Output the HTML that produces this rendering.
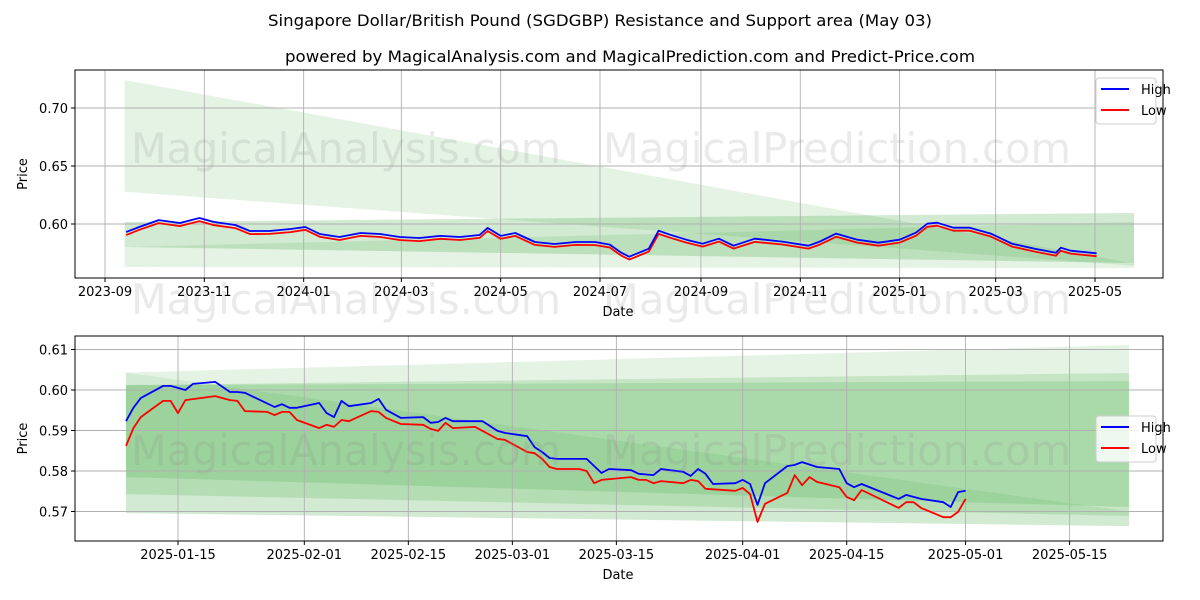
<!DOCTYPE html>
<html><head><meta charset="utf-8"><style>
body{margin:0;background:#fff;}
svg{display:block;font-family:"DejaVu Sans","Liberation Sans",sans-serif;}
</style></head><body>
<svg id="chart" width="1200" height="600" viewBox="0 0 1200 600" xmlns="http://www.w3.org/2000/svg">
<text x="600" y="26" text-anchor="middle" font-size="16" fill="#000" textLength="664" lengthAdjust="spacingAndGlyphs">Singapore Dollar/British Pound (SGDGBP) Resistance and Support area (May 03)</text>
<text x="630" y="62" text-anchor="middle" font-size="16" fill="#000" textLength="690" lengthAdjust="spacingAndGlyphs">powered by MagicalAnalysis.com and MagicalPrediction.com and Predict-Price.com</text>
<g id="top"></g>
<g id="bot"></g>
</svg>
<script>
// ---- top panel data ----
const topHighDates=["2023-09-14","2023-09-22","2023-10-04","2023-10-17","2023-10-29","2023-11-07","2023-11-20","2023-11-29","2023-12-11","2023-12-24","2024-01-02","2024-01-11","2024-01-23","2024-02-05","2024-02-17","2024-02-29","2024-03-12","2024-03-25","2024-04-06","2024-04-18","2024-04-23","2024-05-01","2024-05-10","2024-05-22","2024-06-03","2024-06-16","2024-06-28","2024-07-07","2024-07-14","2024-07-19","2024-07-31","2024-08-06","2024-08-13","2024-08-23","2024-09-02","2024-09-12","2024-09-21","2024-10-04","2024-10-21","2024-11-06","2024-11-13","2024-11-23","2024-12-06","2024-12-19","2025-01-01","2025-01-11","2025-01-18","2025-01-24","2025-02-03","2025-02-13","2025-02-26","2025-03-11","2025-03-25","2025-04-07","2025-04-10","2025-04-16","2025-05-02"];
const topHighVals=[0.5931,0.5974,0.6034,0.6009,0.6052,0.6017,0.5991,0.5940,0.5940,0.5957,0.5974,0.5914,0.5888,0.5922,0.5914,0.5888,0.5879,0.5897,0.5888,0.5905,0.5966,0.5897,0.5922,0.5845,0.5828,0.5845,0.5845,0.5822,0.5753,0.5718,0.5787,0.5942,0.5908,0.5865,0.5830,0.5873,0.5813,0.5873,0.5848,0.5813,0.5848,0.5917,0.5865,0.5839,0.5865,0.5925,0.6003,0.6011,0.5968,0.5968,0.5917,0.5830,0.5787,0.5753,0.5796,0.5770,0.5747];
const topLowVals=[0.5905,0.5950,0.6008,0.5982,0.6025,0.5990,0.5965,0.5913,0.5915,0.5930,0.5950,0.5890,0.5862,0.5897,0.5888,0.5862,0.5853,0.5872,0.5862,0.5880,0.5940,0.5872,0.5897,0.5820,0.5803,0.5820,0.5818,0.5797,0.5728,0.5693,0.5762,0.5915,0.5882,0.5840,0.5805,0.5848,0.5788,0.5846,0.5823,0.5788,0.5822,0.5890,0.5840,0.5813,0.5840,0.5898,0.5976,0.5985,0.5942,0.5942,0.5892,0.5805,0.5762,0.5727,0.5770,0.5745,0.5722];
const topTicks=["2023-09","2023-11","2024-01","2024-03","2024-05","2024-07","2024-09","2024-11","2025-01","2025-03","2025-05"];
const topYTicks=[0.60,0.65,0.70];
const topBandStart="2023-09-13", topBandEnd="2025-05-25";
const topBandTopsL=[0.7241,0.6017,0.5802], topBandTopsR=[0.5660,0.6095,0.6017];
const topBandBotsL=[0.6279,0.5802,0.5629], topBandBotsR=[0.5640,0.5664,0.5620];
// ---- bottom panel data ----
const botHighDates=["2025-01-08","2025-01-09","2025-01-10","2025-01-13","2025-01-14","2025-01-16","2025-01-17","2025-01-20","2025-01-22","2025-01-23","2025-01-24","2025-01-28","2025-01-29","2025-01-30","2025-01-31","2025-02-03","2025-02-04","2025-02-05","2025-02-06","2025-02-07","2025-02-10","2025-02-11","2025-02-12","2025-02-14","2025-02-17","2025-02-18","2025-02-19","2025-02-20","2025-02-21","2025-02-25","2025-02-27","2025-02-28","2025-03-03","2025-03-04","2025-03-05","2025-03-06","2025-03-07","2025-03-11","2025-03-13","2025-03-14","2025-03-17","2025-03-18","2025-03-20","2025-03-21","2025-03-24","2025-03-25","2025-03-26","2025-03-27","2025-03-28","2025-03-31","2025-04-01","2025-04-02","2025-04-03","2025-04-04","2025-04-07","2025-04-08","2025-04-09","2025-04-11","2025-04-14","2025-04-15","2025-04-16","2025-04-17","2025-04-22","2025-04-23","2025-04-25","2025-04-28","2025-04-29","2025-04-30","2025-05-01"];
const botHighVals=[0.5923,0.5956,0.5980,0.6010,0.6010,0.6000,0.6015,0.6020,0.5995,0.5995,0.5993,0.5958,0.5965,0.5956,0.5956,0.5968,0.5943,0.5933,0.5973,0.5960,0.5968,0.5978,0.5951,0.5931,0.5933,0.5919,0.5921,0.5931,0.5923,0.5923,0.5899,0.5894,0.5886,0.5859,0.5847,0.5832,0.5830,0.5830,0.5795,0.5805,0.5802,0.5793,0.5790,0.5805,0.5798,0.5788,0.5805,0.5793,0.5768,0.5770,0.5778,0.5768,0.5716,0.5770,0.5812,0.5815,0.5822,0.5810,0.5805,0.5770,0.5760,0.5768,0.5731,0.5741,0.5731,0.5723,0.5711,0.5748,0.5751];
const botLowDates=["2025-01-08","2025-01-09","2025-01-10","2025-01-13","2025-01-14","2025-01-15","2025-01-16","2025-01-20","2025-01-22","2025-01-23","2025-01-24","2025-01-27","2025-01-28","2025-01-29","2025-01-30","2025-01-31","2025-02-03","2025-02-04","2025-02-05","2025-02-06","2025-02-07","2025-02-10","2025-02-11","2025-02-12","2025-02-14","2025-02-17","2025-02-18","2025-02-19","2025-02-20","2025-02-21","2025-02-24","2025-02-27","2025-02-28","2025-03-03","2025-03-04","2025-03-05","2025-03-06","2025-03-07","2025-03-10","2025-03-11","2025-03-12","2025-03-13","2025-03-17","2025-03-18","2025-03-19","2025-03-20","2025-03-21","2025-03-24","2025-03-25","2025-03-26","2025-03-27","2025-03-31","2025-04-01","2025-04-02","2025-04-03","2025-04-04","2025-04-07","2025-04-08","2025-04-09","2025-04-10","2025-04-11","2025-04-14","2025-04-15","2025-04-16","2025-04-17","2025-04-22","2025-04-23","2025-04-24","2025-04-25","2025-04-28","2025-04-29","2025-04-30","2025-05-01"];
const botLowVals=[0.5862,0.5906,0.5933,0.5973,0.5973,0.5943,0.5975,0.5985,0.5975,0.5973,0.5948,0.5946,0.5938,0.5946,0.5946,0.5926,0.5906,0.5914,0.5909,0.5926,0.5923,0.5948,0.5946,0.5931,0.5916,0.5914,0.5904,0.5899,0.5919,0.5906,0.5909,0.5879,0.5877,0.5847,0.5844,0.5830,0.5810,0.5805,0.5805,0.5800,0.5770,0.5778,0.5785,0.5778,0.5778,0.5770,0.5775,0.5770,0.5778,0.5775,0.5756,0.5751,0.5758,0.5743,0.5674,0.5719,0.5746,0.5790,0.5765,0.5785,0.5773,0.5760,0.5736,0.5728,0.5753,0.5709,0.5723,0.5723,0.5709,0.5686,0.5686,0.5699,0.5731];
const botTicks=["2025-01-15","2025-02-01","2025-02-15","2025-03-01","2025-03-15","2025-04-01","2025-04-15","2025-05-01","2025-05-15"];
const botYTicks=[0.57,0.58,0.59,0.60,0.61];
const botBandStart="2025-01-08", botBandEnd="2025-05-23";
const botBandTopsL=[0.6043,0.6012,0.6012,0.6043], botBandTopsR=[0.6111,0.6042,0.6022,0.5700];
const botBandBotsL=[0.5696,0.5743,0.5785,0.5696], botBandBotsR=[0.5664,0.5689,0.5711,0.5664];

const NS="http://www.w3.org/2000/svg";
function mk(parent,tag,attrs){const e=document.createElementNS(NS,tag);for(const k in attrs)e.setAttribute(k,attrs[k]);parent.appendChild(e);return e;}
function dnum(s){return Date.parse(s+(s.length===7?"-01":"")+"T00:00:00Z")/86400000;}

function panel(g,cfg){
  const {L,R,T,B,x0d,x0px,pxPerDay,yRef,yRefPx,pxPerUnit}=cfg;
  const X=d=>x0px+(dnum(d)-dnum(x0d))*pxPerDay;
  const Y=v=>yRefPx-(v-yRef)*pxPerUnit;
  const clipId=cfg.id+"clip";
  const defs=mk(g,"defs",{});const cp=mk(defs,"clipPath",{id:clipId});mk(cp,"rect",{x:L,y:T,width:R-L,height:B-T});
  const plot=mk(g,"g",{"clip-path":"url(#"+clipId+")"});
  
  
  const xa=X(cfg.bandStart), xb=X(cfg.bandEnd);
  for(let i=0;i<cfg.topsL.length;i++){
    const p=mk(plot,"polygon",{points:`${xa},${Y(cfg.topsL[i])} ${xb},${Y(cfg.topsR[i])} ${xb},${Y(cfg.botsR[i])} ${xa},${Y(cfg.botsL[i])}`,fill:"#2ca02c","fill-opacity":cfg.alphas[i]});
    
    
  }
  cfg.xticks.forEach(t=>{const x=X(t);
    const l=mk(plot,"line",{x1:x,x2:x,y1:T,y2:B,stroke:"#b0b0b0","stroke-width":0.9});
    
    });
  cfg.yticks.forEach(v=>{const y=Y(v);
    const l=mk(plot,"line",{x1:L,x2:R,y1:y,y2:y,stroke:"#b0b0b0","stroke-width":0.9});
    
    });
  cfg.marks.forEach(m=>{const t=mk(g,"text",{x:m[0],y:m[1],"font-size":42,fill:"#888","fill-opacity":0.18,"text-anchor":"middle",textLength:m[3],lengthAdjust:"spacingAndGlyphs"});t.textContent=m[2];
    
    });
  const line=(ds,vs,col,name)=>{const p=mk(plot,"polyline",{points:ds.map((d,i)=>X(d).toFixed(1)+","+Y(vs[i]).toFixed(1)).join(" "),fill:"none",stroke:col,"stroke-width":1.8,"stroke-linejoin":"round"});
    
    };
  line(cfg.lowD,cfg.lowV,"#ff0000",cfg.id+"-low-line");
  line(cfg.highD,cfg.highV,"#0000ff",cfg.id+"-high-line");
  const f=mk(g,"rect",{x:L,y:T,width:R-L,height:B-T,fill:"none",stroke:"#000","stroke-width":1});
  
  
  cfg.xticks.forEach(t=>{const x=X(t);mk(g,"line",{x1:x,x2:x,y1:B,y2:B+4,stroke:"#000"});
    const tx=mk(g,"text",{x:x,y:B+18,"font-size":13,"text-anchor":"middle",fill:"#000"});tx.textContent=t;
    
    });
  cfg.yticks.forEach(v=>{const y=Y(v);mk(g,"line",{x1:L-4,x2:L,y1:y,y2:y,stroke:"#000"});
    const tx=mk(g,"text",{x:L-7,y:y+5,"font-size":13,"text-anchor":"end",fill:"#000"});tx.textContent=v.toFixed(2);
    
    });
  const xl=mk(g,"text",{x:(L+R)/2-1,y:B+38,"font-size":13,"text-anchor":"middle"});xl.textContent="Date";
  
  
  const yc=(T+B)/2;const yl=mk(g,"text",{x:cfg.ylabX,y:yc,"font-size":13,"text-anchor":"middle",transform:`rotate(-90 ${cfg.ylabX} ${yc})`});yl.textContent="Price";
  
  
  const lg=mk(g,"g",{});
  
  
  const ly=cfg.legY;
  mk(lg,"rect",{x:1096,y:ly,width:60,height:46,rx:3,fill:"#fff","fill-opacity":0.8,stroke:"#ccc"});
  [["High","#0000ff",11],["Low","#ff0000",32]].forEach(e=>{
    const en=mk(lg,"g",{});
    
    
    mk(en,"line",{x1:1101,x2:1129,y1:ly+e[2],y2:ly+e[2],stroke:e[1],"stroke-width":2});
    const t=mk(en,"text",{x:1141,y:ly+e[2]+5,"font-size":13});t.textContent=e[0];});
}
panel(document.getElementById("top"),{id:"top",L:75,R:1163,T:70,B:278,x0d:"2023-09-01",x0px:105,pxPerDay:990/608,yRef:0.60,yRefPx:224,pxPerUnit:1160,
  bandStart:topBandStart,bandEnd:topBandEnd,topsL:topBandTopsL,topsR:topBandTopsR,botsL:topBandBotsL,botsR:topBandBotsR,alphas:[0.13,0.22,0.12],
  xticks:topTicks,yticks:topYTicks,highD:topHighDates,highV:topHighVals,lowD:topHighDates,lowV:topLowVals,ylabX:27,legY:78,
  marks:[[346,163,"MagicalAnalysis.com",430],[837,163,"MagicalPrediction.com",468],[346,314,"MagicalAnalysis.com",430],[837,314,"MagicalPrediction.com",468]]});
panel(document.getElementById("bot"),{id:"bottom",L:75,R:1163,T:336,B:541,x0d:"2025-01-15",x0px:178,pxPerDay:7.43,yRef:0.60,yRefPx:390,pxPerUnit:4050,
  bandStart:botBandStart,bandEnd:botBandEnd,topsL:botBandTopsL,topsR:botBandTopsR,botsL:botBandBotsL,botsR:botBandBotsR,alphas:[0.12,0.17,0.17,0.1],
  xticks:botTicks,yticks:botYTicks,highD:botHighDates,highV:botHighVals,lowD:botLowDates,lowV:botLowVals,ylabX:27,legY:416,
  marks:[[346,465,"MagicalAnalysis.com",430],[837,465,"MagicalPrediction.com",468]]});
</script>
</body></html>
